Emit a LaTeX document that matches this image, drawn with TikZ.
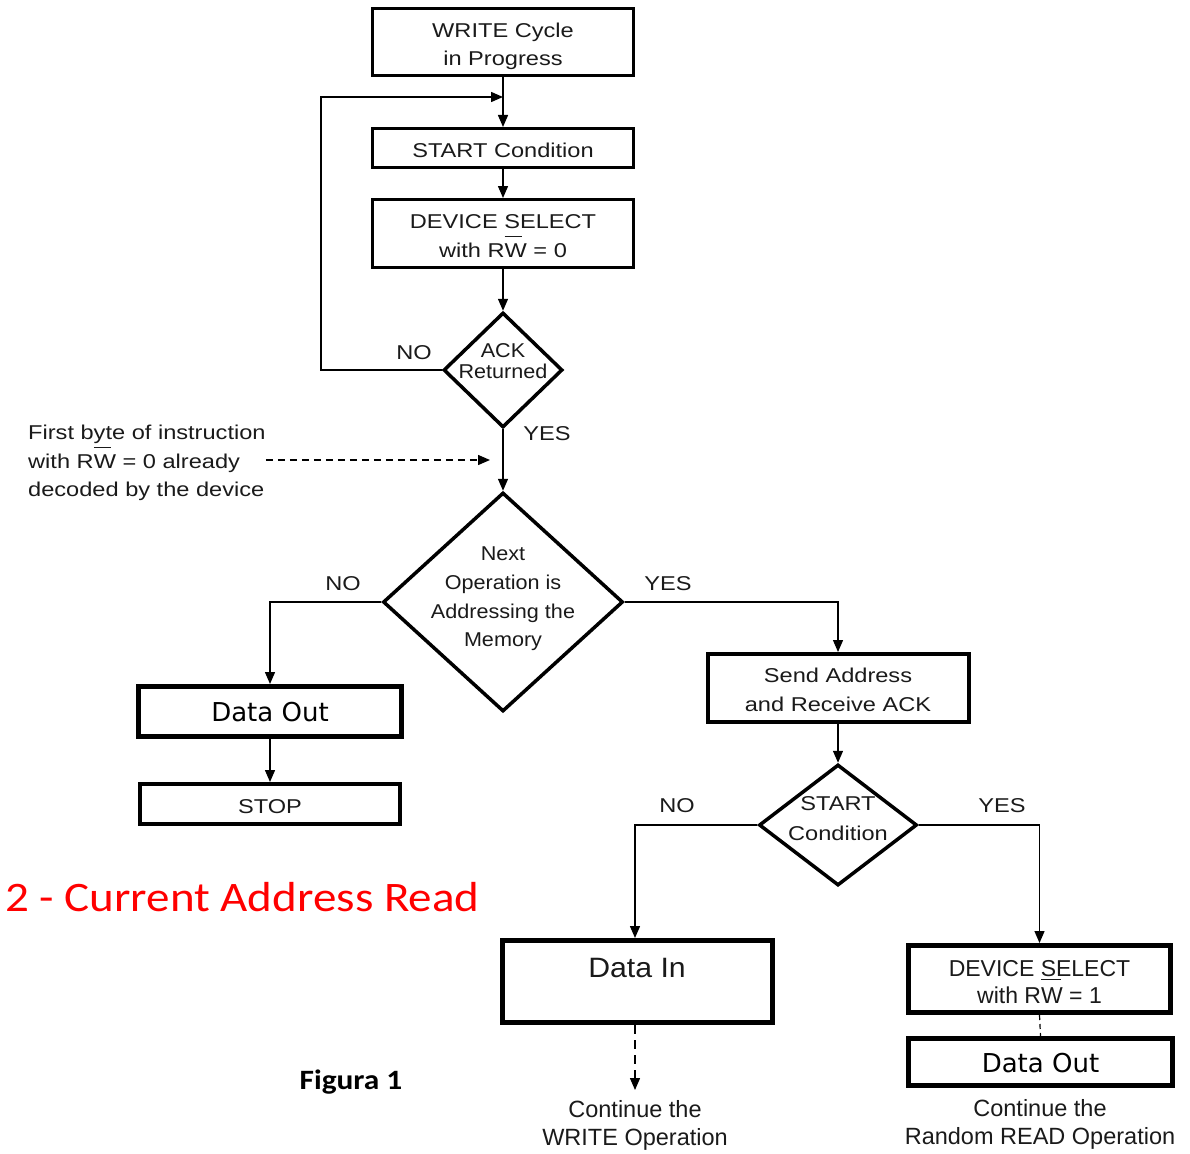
\documentclass[tikz,border=0pt]{standalone}
\usepackage{fontspec}
\setmainfont[FakeStretch=1.18]{Liberation Sans}
\newfontfamily\arialPlain{Liberation Sans}
\newfontfamily\arialWide[FakeStretch=1.08]{Liberation Sans}
\newfontfamily\verdFont{DejaVu Sans}
\newfontfamily\calibFont[FakeStretch=1.12]{Carlito}
\usetikzlibrary{shapes.geometric,arrows.meta}
\definecolor{ink}{HTML}{1A1A1A}
\definecolor{titlered}{HTML}{FF0000}
% W with an active-low bar
\newcommand\Wbar{\rlap{\rule[1.0em]{0.85em}{0.06em}}W}

\begin{document}
\begin{tikzpicture}[x=1pt,y=-1pt,
  txt/.style={inner sep=0pt, align=center, text=ink,
              font=\fontsize{20}{28.5}\selectfont},
  lowtxt/.style={inner sep=0pt, align=center, text=ink,
              font=\arialPlain\fontsize{23.5}{28}\selectfont},
  bigtxt/.style={inner sep=0pt, text=black,
              font=\verdFont\fontsize{26}{30}\selectfont},
  box/.style={draw=black, rectangle, inner sep=0pt},
  thinbox/.style={box, line width=3pt},
  midbox/.style={box, line width=4pt},
  heavybox/.style={box, line width=5pt},
  dia/.style={draw=black, diamond, inner sep=0pt, line width=3.5pt},
  conn/.style={draw=black, line width=1.4pt,
               -{Triangle[length=12pt,width=10pt]}},
  dconn/.style={conn, dash pattern=on 7pt off 5pt},
]
\useasboundingbox (0,0) rectangle (1190,1153);

% ---- upper column
\node[thinbox, minimum width=261, minimum height=67] (write) at (503,42) {};
\node[txt] (writeT) at (503,46.5) {WRITE Cycle\\in Progress};
\node[thinbox, minimum width=261, minimum height=39] (start) at (503,148) {};
\node[txt] (startT) at (503,150) {START Condition};
\node[thinbox, minimum width=261, minimum height=68] (dev) at (503,233.5) {};
\node[txt] (devT) at (503,236) {DEVICE SELECT\\with R\Wbar{} = 0};

\node[dia, minimum width=119, minimum height=115] (ack) at (503,370) {};
\node[txt, font=\arialWide\fontsize{20}{21}\selectfont] (ackT) at (503,361.5)
  {ACK\\Returned};

\coordinate (join) at (503,97);
\coordinate (loopc) at (321,370);

\draw[conn] (write.south) -- (start.north);
\draw[conn] (ack.west) -- (loopc) |- (join);
\draw[conn] (start.south) -- (dev.north);
\draw[conn] (dev.south) -- (ack.north);

\node[txt] (noA) at (414,353) {NO};
\node[txt] (yesA) at (547,434) {YES};

% ---- note
\node[txt, align=left, anchor=west] (note) at (28,463)
  {First byte of instruction\\with R\Wbar{} = 0 already\\decoded by the device};
\coordinate (noteTip) at (490,460);
\draw[dconn] (270,460 -| note.east) -- (noteTip);

% ---- main decision
\node[dia, minimum width=240, minimum height=219] (next) at (503,602) {};
\node[txt, font=\arialWide\fontsize{20}{28.7}\selectfont] (nextT) at (503,599)
  {Next\\Operation is\\Addressing the\\Memory};
\draw[conn] (ack.south) -- (next.north);

\node[txt] (noB) at (343,584) {NO};
\node[txt] (yesB) at (668,584) {YES};

% ---- left branch
\node[heavybox, minimum width=263, minimum height=50] (outL) at (270,711.5) {};
\node[bigtxt] (outLT) at (270,712) {Data Out};
\node[midbox, minimum width=260, minimum height=40] (stop) at (270,804) {};
\node[txt] (stopT) at (270,807) {STOP};
\draw[conn] (next.west) -| (outL.north);
\draw[conn] (outL.south) -- (stop.north);

% ---- right branch
\node[midbox, minimum width=261, minimum height=68] (send) at (838,688) {};
\node[txt] (sendT) at (838,690) {Send Address\\and Receive ACK};
\draw[conn] (next.east) -| (send.north);

\node[dia, minimum width=158, minimum height=121] (startc) at (838,825) {};
\node[txt, font=\fontsize{20}{30}\selectfont] (startcT) at (838,819)
  {START\\Condition};
\draw[conn] (send.south) -- (startc.north);

\node[txt] (noC) at (677,806) {NO};
\node[txt] (yesC) at (1002,806) {YES};

% ---- write continuation
\node[heavybox, minimum width=270, minimum height=82] (datain) at (637.5,981.5) {};
\node[txt, font=\arialWide\fontsize{28}{30}\selectfont] (datainT) at (637,968)
  {Data In};
\node[lowtxt] (contW) at (635,1125) {Continue the\\WRITE Operation};
\coordinate (contWtip) at (635,1090);
\draw[conn] (startc.west) -| ([xshift=-2.5pt]datain.north);
\draw[dconn, dash pattern=on 9pt off 6pt] ([xshift=-2.5pt]datain.south) -- (contWtip);

% ---- read continuation
\node[heavybox, minimum width=262, minimum height=67] (dev2) at (1039.5,979) {};
\node[lowtxt, font=\arialPlain\fontsize{23}{27}\selectfont] (dev2T) at (1039.5,982)
  {DEVICE SELECT\\with R\Wbar{} = 1};
\node[heavybox, minimum width=264, minimum height=47] (outR) at (1040.5,1062) {};
\node[bigtxt] (outRT) at (1040.5,1063) {Data Out};
\node[lowtxt] (contR) at (1040,1124) {Continue the\\Random READ Operation};
\draw[conn] (startc.east) -| (dev2.north);
\draw[line width=1.2pt, dash pattern=on 5pt off 4pt] (dev2.south) -- (outR.north);

% ---- captions
\node[anchor=west, inner sep=0pt, text=titlered,
      font=\calibFont\fontsize{42}{46}\selectfont] (title) at (5,897)
  {2 - Current Address Read};
\node[inner sep=0pt, text=black,
      font=\calibFont\bfseries\fontsize{28}{30}\selectfont] (fig) at (351,1082)
  {Figura 1};
\end{tikzpicture}
\end{document}
